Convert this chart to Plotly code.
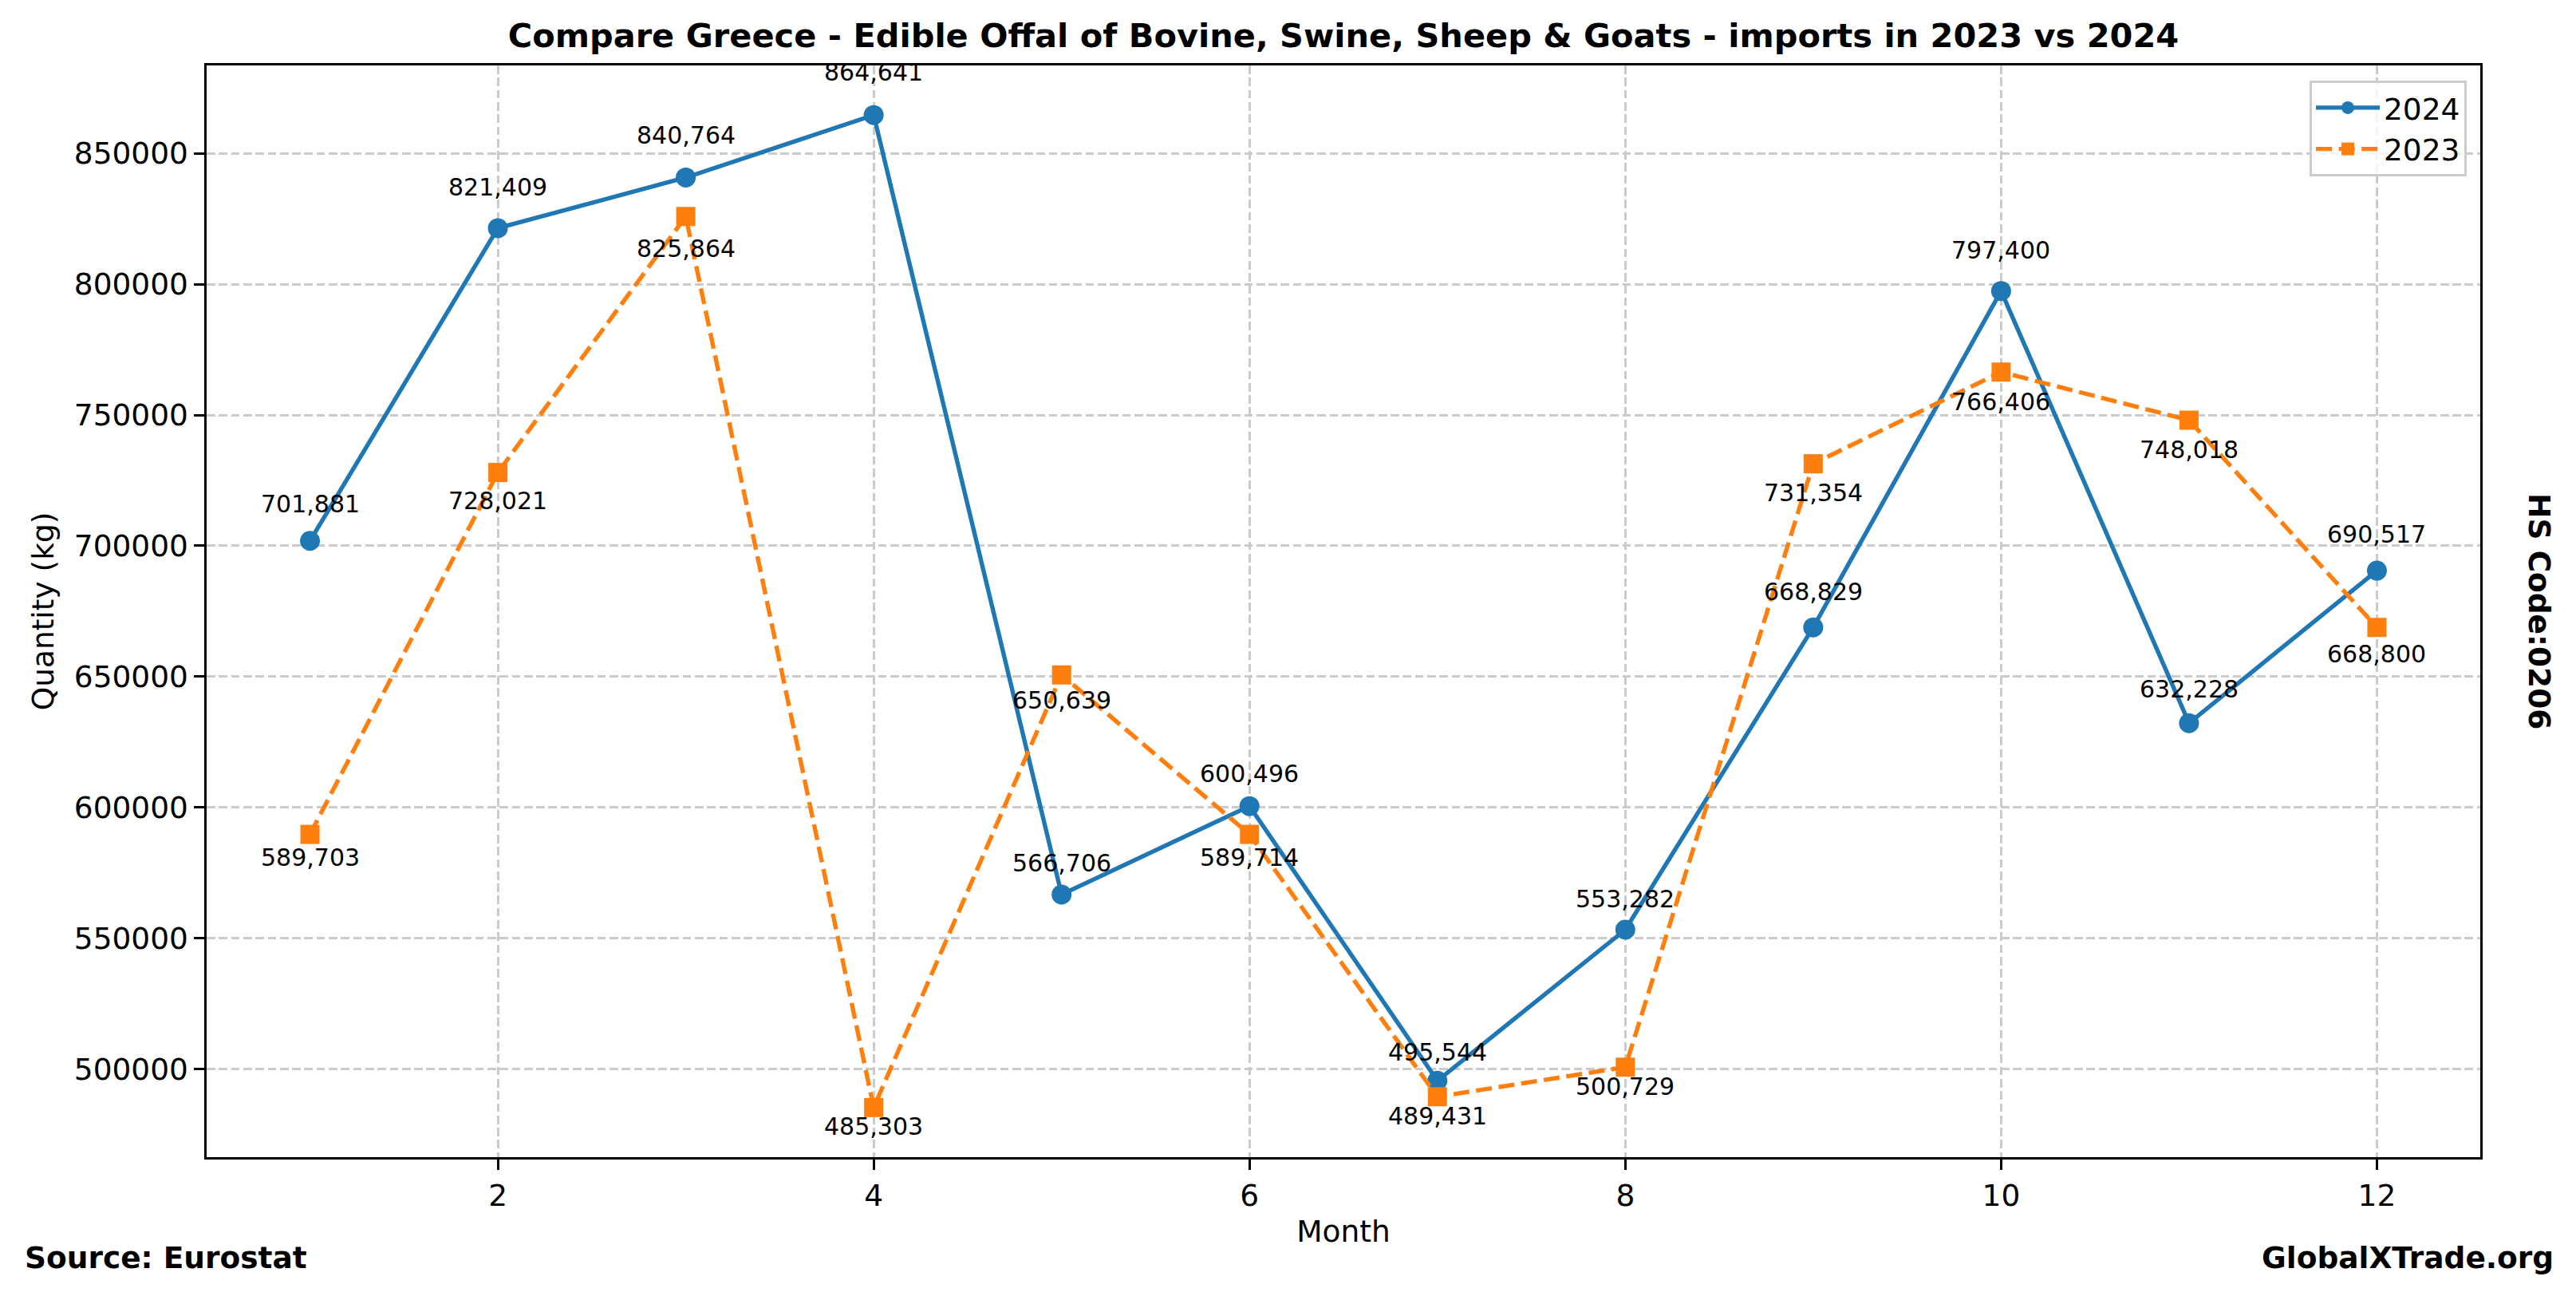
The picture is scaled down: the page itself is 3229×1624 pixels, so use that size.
import plotly.graph_objects as go

months = [1, 2, 3, 4, 5, 6, 7, 8, 9, 10, 11, 12]
values_2024 = [701881, 821409, 840764, 864641, 566706, 600496, 495544, 553282, 668829, 797400, 632228, 690517]
values_2023 = [589703, 728021, 825864, 485303, 650639, 589714, 489431, 500729, 731354, 766406, 748018, 668800]
x_ticks = [2, 4, 6, 8, 10, 12]
y_ticks = [500000, 550000, 600000, 650000, 700000, 750000, 800000, 850000]

title = "Compare Greece - Edible Offal of Bovine, Swine, Sheep & Goats - imports in 2023 vs 2024"

W, H = 3229, 1624
SH = 6  # page offset correction
L, R, T, B = 257 - SH, 3107 - SH, 80 - SH, 1448 - SH

FONT = "DejaVu Sans"
BLUE = "#1f77b4"
ORANGE = "#ff7f0e"
FS = 37.5

fig = go.Figure()
fig.add_trace(go.Scatter(
    x=months, y=values_2024, name="2024", mode="lines+markers",
    line=dict(color=BLUE, width=5.4),
    marker=dict(symbol="circle", size=25, color=BLUE),
))
fig.add_trace(go.Scatter(
    x=months, y=values_2023, name="2023", mode="lines+markers",
    line=dict(color=ORANGE, width=5.4, dash="20px,8.6px"),
    marker=dict(symbol="square", size=24, color=ORANGE),
))

annotations = []
for m, v in zip(months, values_2024):
    annotations.append(dict(x=m, y=v * 1.015, xref="x", yref="y", text=f"{v:,}", showarrow=False,
                            yanchor="bottom", xanchor="center", yshift=-8,
                            font=dict(family=FONT, size=30, color="black")))
for m, v in zip(months, values_2023):
    annotations.append(dict(x=m, y=v * 0.985, xref="x", yref="y", text=f"{v:,}", showarrow=False,
                            yanchor="middle", xanchor="center",
                            font=dict(family=FONT, size=30, color="black")))

def px_x(p):
    return (p - SH - L) / (R - L)

def px_y(p):
    return (B - (p - SH)) / (B - T)

annotations.append(dict(x=px_x(3181), y=0.5, xref="paper", yref="paper", text="<b>HS Code:0206</b>",
                        textangle=90, showarrow=False, xanchor="center", yanchor="middle",
                        font=dict(family=FONT, size=FS, color="black")))
annotations.append(dict(x=px_x(27), y=px_y(1574), xref="paper", yref="paper", text="<b>Source: Eurostat</b>",
                        showarrow=False, xanchor="left", yanchor="middle",
                        font=dict(family=FONT, size=FS, color="black")))
annotations.append(dict(x=px_x(3201), y=px_y(1574), xref="paper", yref="paper", text="<b>GlobalXTrade.org</b>",
                        showarrow=False, xanchor="right", yanchor="middle",
                        font=dict(family=FONT, size=FS, color="black")))

ymin, ymax = min(values_2023 + values_2024), max(values_2023 + values_2024)
pad = 0.05 * (ymax - ymin)
xpad = 0.05 * (max(months) - min(months))

axis_common = dict(
    showline=True, linecolor="black", linewidth=2.9, mirror=True,
    ticks="outside", ticklen=12.6, tickwidth=2.9, tickcolor="black",
    showgrid=True, gridcolor="#cbcbcb", gridwidth=2.9, griddash="10.7px,4.6px",
    zeroline=False,
    tickfont=dict(family=FONT, size=FS, color="black"),
)

fig.update_layout(
    width=W, height=H,
    margin=dict(l=L, r=W - R, t=T, b=H - B, pad=0),
    paper_bgcolor="white", plot_bgcolor="white",
    font=dict(family=FONT, size=FS, color="black"),
    title=dict(text=f"<b>{title}</b>", x=0.5, xref="paper", xanchor="center",
               y=(H - (42 - SH)) / H, yref="container", yanchor="middle",
               font=dict(family=FONT, size=41.5, color="black")),
    xaxis=dict(range=[min(months) - xpad, max(months) + xpad], tickvals=x_ticks,
               title=dict(text="Month", standoff=12, font=dict(family=FONT, size=FS)),
               **axis_common),
    yaxis=dict(range=[ymin - pad, ymax + pad], tickvals=y_ticks, tickformat="d",
               title=dict(text="Quantity (kg)", standoff=14, font=dict(family=FONT, size=FS)),
               **axis_common),
    legend=dict(x=px_x(3090), y=px_y(99), xanchor="right", yanchor="top",
                bgcolor="rgba(255,255,255,0.8)", bordercolor="#cccccc", borderwidth=3,
                font=dict(family=FONT, size=FS, color="black"),
                itemwidth=80),
    annotations=annotations,
    showlegend=True,
)

fig.write_html("out.html")
